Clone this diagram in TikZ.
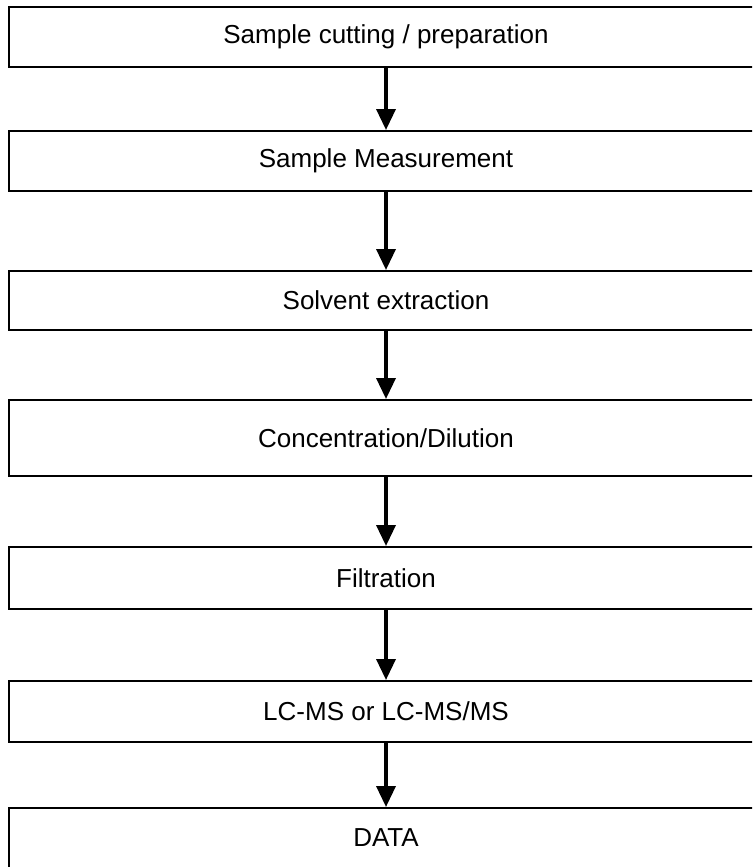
\documentclass[tikz,border=0pt]{standalone}
\usepackage{fontspec}
\setmainfont{Liberation Sans}
\usetikzlibrary{arrows.meta}

\tikzset{
	stepbox/.style={draw,line width=2pt,minimum width=754pt,inner sep=0pt,font=\fontsize{26}{30}\selectfont},
	flow/.style={line width=3.5pt,-{Triangle[width=19pt,length=21pt]}}
}

\begin{document}
\begin{tikzpicture}[x=1pt,y=-1pt]
					\useasboundingbox (0,0) rectangle (752,867);
					\clip (0,0) rectangle (752,867);
					
					\path (386,37) node[stepbox,minimum height=60pt] (cut) {Sample cutting / preparation};
					\path (386,161) node[stepbox,minimum height=60pt] (meas) {Sample Measurement};
					\path (386,300.5) node[stepbox,minimum height=59pt] (extr) {Solvent extraction};
					\path (386,438) node[stepbox,minimum height=76pt] (conc) {Concentration/Dilution};
					\path (386,578) node[stepbox,minimum height=62pt] (filt) {Filtration};
					\path (386,711.5) node[stepbox,minimum height=61pt] (lcms) {LC-MS or LC-MS/MS};
					\path (386,838) node[stepbox,minimum height=60pt] (data) {DATA};
					
					\draw[flow] (cut) -- (meas);
					\draw[flow] (meas) -- (extr);
					\draw[flow] (extr) -- (conc);
					\draw[flow] (conc) -- (filt);
					\draw[flow] (filt) -- (lcms);
					\draw[flow] (lcms) -- (data);
\end{tikzpicture}
\end{document}
